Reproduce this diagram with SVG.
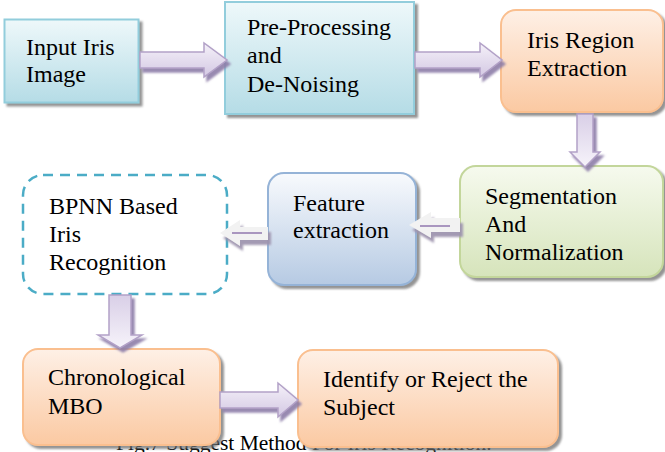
<svg xmlns="http://www.w3.org/2000/svg" width="665" height="452" viewBox="0 0 665 452" font-family="'Liberation Serif', 'Times New Roman', Times, 'DejaVu Serif', serif">
<defs>
<linearGradient id="gCyan" x1="0" y1="0" x2="0" y2="1"><stop offset="0" stop-color="#eef8fa"/><stop offset="1" stop-color="#b5dce6"/></linearGradient>
<linearGradient id="gOrange" x1="0" y1="0" x2="0" y2="1"><stop offset="0" stop-color="#fef0e6"/><stop offset="1" stop-color="#fbc9a2"/></linearGradient>
<linearGradient id="gGreen" x1="0" y1="0" x2="0" y2="1"><stop offset="0" stop-color="#f6faee"/><stop offset="1" stop-color="#d6e4bb"/></linearGradient>
<linearGradient id="gBlue" x1="0" y1="0" x2="0" y2="1"><stop offset="0" stop-color="#f8fafd"/><stop offset="1" stop-color="#b6cae3"/></linearGradient>
<linearGradient id="gPurple" x1="0" y1="0" x2="0" y2="1"><stop offset="0" stop-color="#f5f1f9"/><stop offset="1" stop-color="#d3c8e3"/></linearGradient>
<linearGradient id="gPurpleV" x1="0" y1="0" x2="0" y2="1"><stop offset="0" stop-color="#d9cfe7"/><stop offset="1" stop-color="#f6f3fa"/></linearGradient>
<filter id="sh" x="-10%" y="-10%" width="130%" height="130%"><feDropShadow dx="3" dy="3" stdDeviation="1" flood-color="#6f6f6f" flood-opacity="0.75"/></filter>
<filter id="shP" x="-20%" y="-20%" width="150%" height="150%"><feDropShadow dx="3" dy="4" stdDeviation="0.8" flood-color="#8d7da8" flood-opacity="0.9"/></filter>
<filter id="shL" x="-20%" y="-20%" width="150%" height="150%"><feDropShadow dx="3" dy="5" stdDeviation="0.8" flood-color="#9e94af" flood-opacity="0.95"/></filter>
</defs>
<style>
text{font-family:"Liberation Serif","Times New Roman",Times,"DejaVu Serif",serif;font-size:24px;fill:#000}
.cap{font-size:21.5px}
.cyan{fill:url(#gCyan);stroke:#92cddc;stroke-width:2;filter:url(#sh)}
.orange{fill:url(#gOrange);stroke:#fabf8f;stroke-width:2;filter:url(#sh)}
.green{fill:url(#gGreen);stroke:#c3d69b;stroke-width:2;filter:url(#sh)}
.blue{fill:url(#gBlue);stroke:#95b3d7;stroke-width:2;filter:url(#sh)}
.dash{fill:#fff;stroke:#4bacc6;stroke-width:2.5;stroke-dasharray:10 7}
.arrow{fill:url(#gPurple);stroke:#b2a1c7;stroke-width:1.5;filter:url(#shP)}
.arrowV{fill:url(#gPurpleV);stroke:#b2a1c7;stroke-width:1.5;filter:url(#shP)}
.larrow{fill:#f2f2f2;stroke:none;filter:url(#shL)}
.mline{stroke:#8064a2;stroke-width:1.3}
</style>
<text class="cap" x="116" y="450">Fig.7 Suggest Method For Iris Recognition.</text>
<g id="n1"><rect class="cyan" x="4.5" y="19.5" width="134" height="83"/><text x="26" y="55">Input Iris</text><text x="26" y="82">Image</text></g>
<g id="n2"><rect class="cyan" x="225" y="2" width="189" height="112"/><text x="247" y="35">Pre-Processing</text><text x="247" y="63">and</text><text x="247" y="92">De-Noising</text></g>
<g id="n3"><rect class="orange" x="501" y="10" width="162" height="102" rx="15"/><text x="527" y="48">Iris Region</text><text x="527" y="76">Extraction</text></g>
<g id="n4"><rect class="green" x="460" y="166" width="203" height="111" rx="16"/><text x="485" y="204">Segmentation</text><text x="485" y="232">And</text><text x="485" y="260">Normalization</text></g>
<g id="n5"><rect class="blue" x="268" y="173" width="148" height="112" rx="16"/><text x="293" y="211">Feature</text><text x="293" y="238">extraction</text></g>
<g id="n6"><rect class="dash" x="23" y="175" width="204" height="119" rx="20"/><text x="49" y="214">BPNN Based</text><text x="49" y="242">Iris</text><text x="49" y="270">Recognition</text></g>
<g id="n7"><rect class="orange" x="23" y="349" width="197" height="96" rx="15"/><text x="48" y="385">Chronological</text><text x="48" y="414">MBO</text></g>
<g id="n8"><rect class="orange" x="298" y="350" width="260" height="97" rx="15"/><text x="323" y="387">Identify or Reject the</text><text x="323" y="415">Subject</text></g>
<g id="connectors">
<path class="arrow" d="M140,52 H204 V43 L227,60 L204,77 V68 H140 Z"/>
<path class="arrow" d="M415,52 H480 V43 L502,60 L480,77 V68 H415 Z"/>
<path class="arrowV" d="M577,114 V152 H570 L585,167 L600,152 H593 V114 Z"/>
<path class="larrow" d="M460,218 H431 V212 L409,225 L431,238 V232 H460 Z"/>
<line class="mline" x1="420" y1="226" x2="450" y2="226"/>
<path class="larrow" d="M268,227 H240 V220 L220,233 L240,246 V240 H268 Z"/>
<line class="mline" x1="232" y1="233" x2="262" y2="233"/>
<path class="arrowV" d="M109,295 V335 H98 L120,348 L142,335 H131 V295 Z"/>
<path class="arrow" d="M220,392 H278 V383 L298,400 L278,417 V408 H220 Z"/>
</g>
</svg>
